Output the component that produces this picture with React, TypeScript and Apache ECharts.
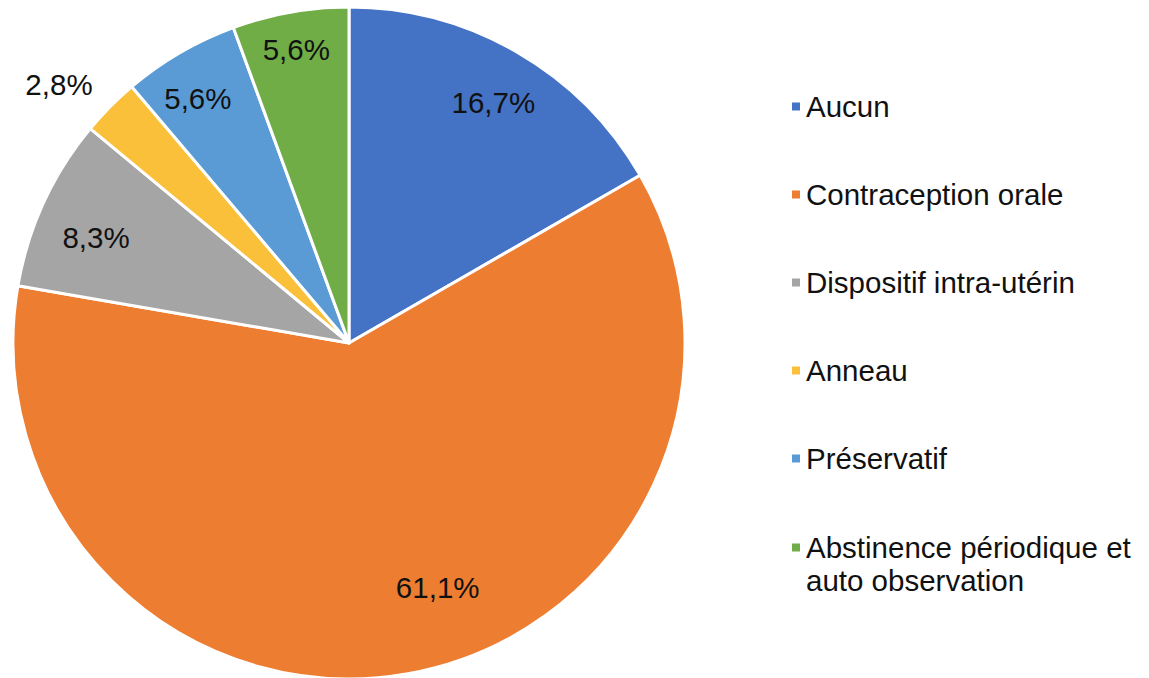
import React, { useEffect, useRef } from "react";
import * as echarts from "echarts";

const categories = [
  "Aucun",
  "Contraception orale",
  "Dispositif intra-utérin",
  "Anneau",
  "Préservatif",
  "Abstinence périodique et auto observation",
];
const values = [16.7, 61.1, 8.3, 2.8, 5.6, 5.6];
const colors = ["#4472C4", "#ED7D31", "#A5A5A5", "#FBC03A", "#5B9BD5", "#70AD47"];
const labelOffsets: [number, number][] = [
  [5, 1],
  [40, -30],
  [0, 11],
  [-92, -63],
  [-11, -4],
  [-4, -19],
];

const FONT = "'Liberation Sans', Arial, Helvetica, sans-serif";
const fmt = (v: number) => v.toFixed(1).replace(".", ",") + "%";

export default function App() {
  const ref = useRef<HTMLDivElement>(null);
  useEffect(() => {
    if (!ref.current) return;
    const chart = echarts.init(ref.current, null, { renderer: "svg" });
    const R = 336;
    const center = [349, 343];
    const textStyle = { fontFamily: FONT, fontSize: 29.5, color: "#111", lineHeight: 33 };
    chart.setOption({
      animation: false,
      backgroundColor: "#fff",
      legend: [
        {
          orient: "vertical",
          left: 785,
          top: 85,
          itemWidth: 10,
          itemHeight: 10,
          itemGap: 55,
          icon: "rect",
          data: categories.slice(0, 5),
          textStyle,
          selectedMode: false,
        },
        {
          orient: "vertical",
          left: 785,
          top: 493,
          itemWidth: 10,
          itemHeight: 10,
          icon: "rect",
          data: categories.slice(5),
          formatter: () => "\nAbstinence périodique et\nauto observation",
          textStyle,
          selectedMode: false,
        },
      ],
      series: [
        {
          type: "pie",
          center,
          radius: [0, R],
          startAngle: 90,
          clockwise: true,
          silent: true,
          label: { show: false },
          labelLine: { show: false },
          itemStyle: { borderColor: "#fff", borderWidth: 3 },
          data: categories.map((name, i) => ({
            name,
            value: values[i],
            itemStyle: { color: colors[i] },
          })),
        },
        {
          type: "pie",
          center,
          radius: [215, R],
          startAngle: 90,
          clockwise: true,
          silent: true,
          labelLine: { show: false },
          itemStyle: { color: "rgba(0,0,0,0)", borderWidth: 0 },
          label: {
            show: true,
            position: "inside",
            fontFamily: FONT,
            fontSize: 29.5,
            color: "#111",
            formatter: (p: any) => fmt(p.value),
          },
          data: categories.map((name, i) => ({
            name: name + " ",
            value: values[i],
            label: { offset: labelOffsets[i] },
          })),
        },
      ],
    });
    return () => chart.dispose();
  }, []);
  return (
    <div
      ref={ref}
      style={{ position: "fixed", left: 0, top: 0, width: 1149, height: 678 }}
    />
  );
}
